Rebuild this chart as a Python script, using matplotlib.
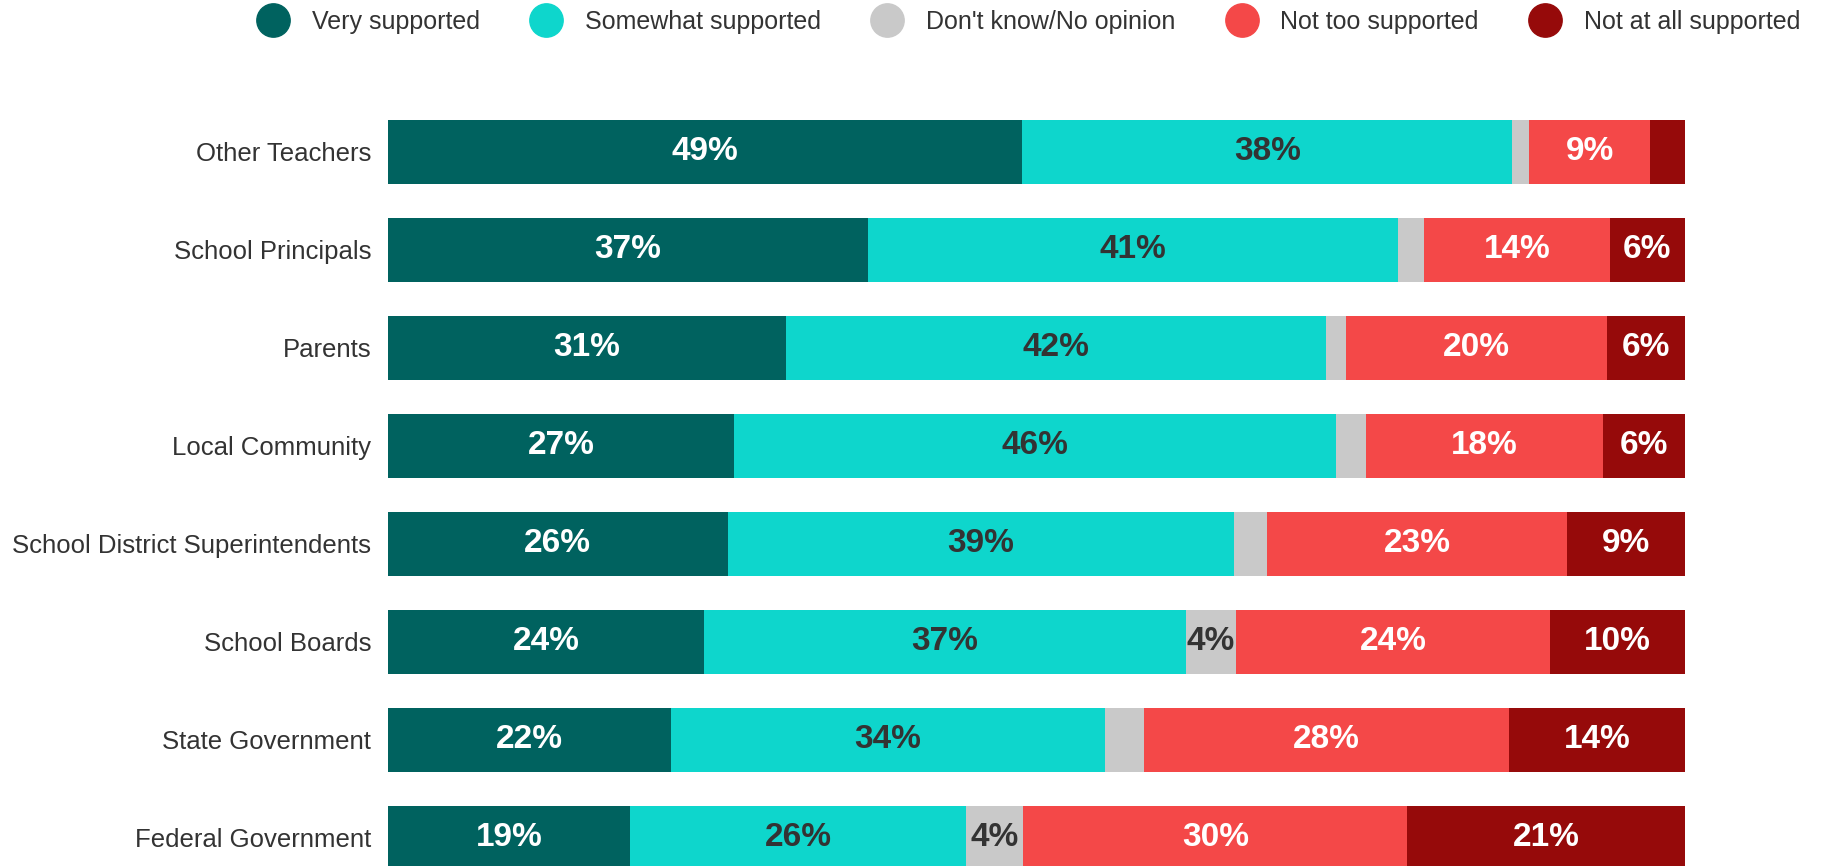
import numpy as np
import matplotlib.pyplot as plt
from matplotlib.lines import Line2D

plt.rcParams['font.family'] = ['Liberation Sans', 'DejaVu Sans']

# categories, top to bottom
groups = ['Other Teachers', 'School Principals', 'Parents', 'Local Community',
          'School District Superintendents', 'School Boards', 'State Government',
          'Federal Government']

very = [48.9, 37.0, 30.7, 26.7, 26.2, 24.4, 21.8, 18.7]
somewhat = [37.8, 40.9, 41.6, 46.4, 39.0, 37.1, 33.5, 25.9]
dont_know = [1.3, 2.0, 1.6, 2.3, 2.6, 3.9, 3.0, 4.4]
not_too = [9.3, 14.3, 20.1, 18.3, 23.1, 24.2, 28.1, 29.6]
not_at_all = [2.7, 5.8, 6.0, 6.3, 9.1, 10.4, 13.6, 21.4]

series = [very, somewhat, dont_know, not_too, not_at_all]
names = ['Very supported', 'Somewhat supported', "Don't know/No opinion",
         'Not too supported', 'Not at all supported']
colors = ['#00625F', '#0ED6CC', '#C9C9C9', '#F44848', '#960A0A']
text_colors = ['white', '#333333', '#333333', 'white', 'white']

fig = plt.figure(figsize=(18.23, 8.66), dpi=100)
ax = fig.add_axes([0.2128, 0.0, 0.7115, 1.0])

y = np.arange(len(groups))
left = np.zeros(len(groups))
for vals, name, col, tcol in zip(series, names, colors, text_colors):
    vals = np.array(vals)
    bars = ax.barh(y, vals, left=left, height=0.653, color=col, label=name)
    # small segments stay unlabelled
    for b, v in zip(bars, vals):
        if v >= 3.5:
            ax.text(b.get_x() + b.get_width() / 2, b.get_y() + b.get_height() / 2,
                    f'{v:.0f}%', ha='center', va='center', color=tcol,
                    fontsize=24, fontweight='bold')
    left += vals

ax.set_xlim(0, 100)
ax.set_ylim(7.286, -1.551)
ax.set_yticks(y)
ax.set_yticklabels(groups, fontsize=18.5, color='#333333')
ax.tick_params(axis='y', length=0, pad=12)
ax.set_xticks([])
for s in ax.spines.values():
    s.set_visible(False)

handles = [Line2D([], [], marker='o', linestyle='none', markersize=24,
                  markerfacecolor=c, markeredgecolor=c) for c in colors]
leg = fig.legend(handles, names, loc='center right', bbox_to_anchor=(0.993, 0.975),
                 ncol=5, frameon=False, fontsize=18, handlelength=1.0,
                 handletextpad=1.05, columnspacing=2.15, borderaxespad=0)
for t in leg.get_texts():
    t.set_color('#333333')

fig.savefig('out.png', dpi=100)
